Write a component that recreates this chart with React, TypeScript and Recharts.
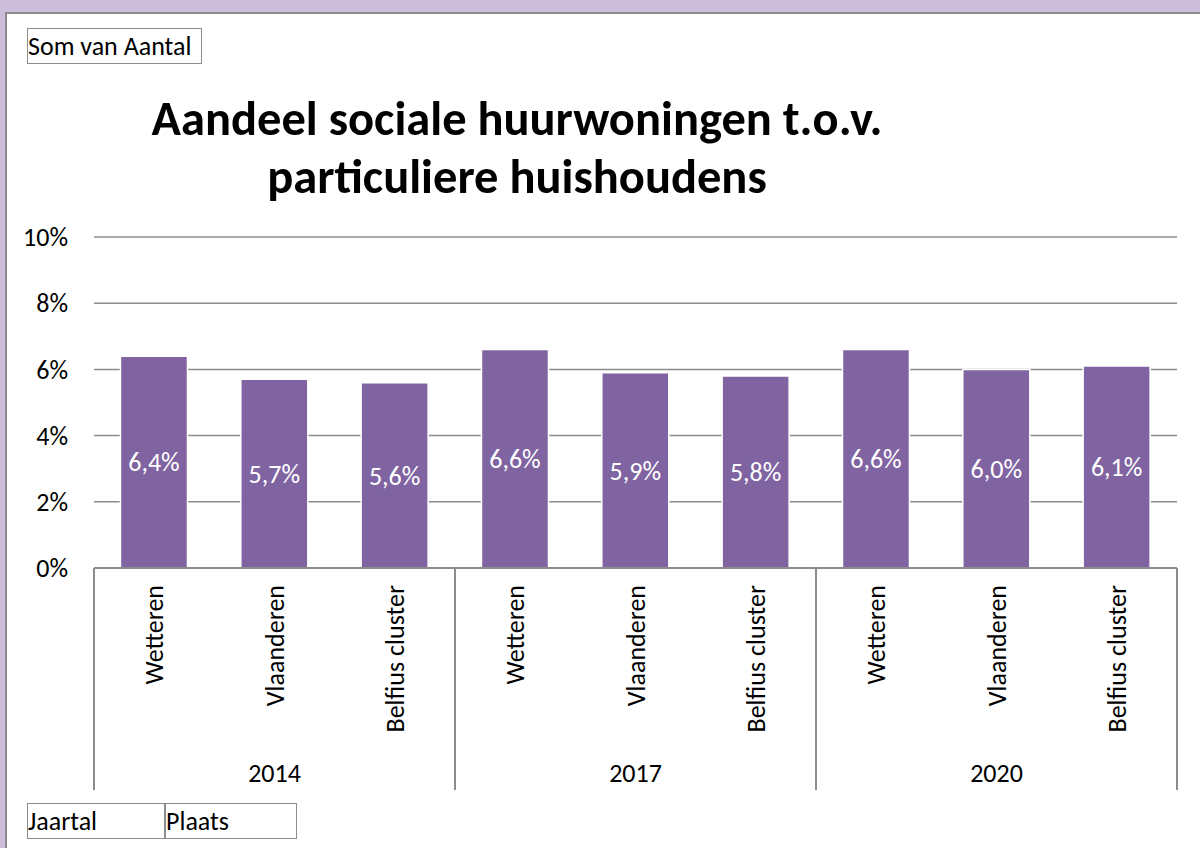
import React from 'react';
import { BarChart, Bar, XAxis, YAxis, CartesianGrid, LabelList } from 'recharts';

const years = ['2014', '2017', '2020'];
const places = ['Wetteren', 'Vlaanderen', 'Belfius cluster'];
const shares2014 = [0.064, 0.057, 0.056];
const shares2017 = [0.066, 0.059, 0.058];
const shares2020 = [0.066, 0.06, 0.061];
const yTicks = [0, 0.02, 0.04, 0.06, 0.08, 0.1];

const data = [shares2014, shares2017, shares2020].flatMap((vals, gi) =>
  vals.map((v, pi) => ({
    key: `${years[gi]}-${places[pi]}`,
    year: years[gi],
    place: places[pi],
    value: v,
  }))
);

const FONT = 'Carlito, Calibri, Lato, sans-serif';
const GRID = '#8c8c8c';
const PLOT_LEFT = 94;
const PLOT_RIGHT = 1177;
const BAND = (PLOT_RIGHT - PLOT_LEFT) / data.length;

const pct = (v: number) => `${Math.round(v * 100)}%`;
const pctComma = (v: number) => `${(v * 100).toFixed(1).replace('.', ',')}%`;

// place name (rotated), year label under the middle bar, and the group separators
function CategoryTick(props: any) {
  const { x, y, payload, index } = props;
  const i = payload?.index ?? index;
  const d = data[i];
  if (!d) return null;
  const groupPos = i % places.length;
  return (
    <g>
      <text
        x={x}
        y={y + 17}
        transform={`rotate(-90, ${x}, ${y + 17})`}
        textAnchor="end"
        dominantBaseline="central"
        fontSize={26}
        fontFamily={FONT}
        fill="#000"
      >
        {d.place}
      </text>
      {groupPos === 1 && (
        <text x={x} y={y + 205} textAnchor="middle" dominantBaseline="central" fontSize={26} fontFamily={FONT} fill="#000">
          {d.year}
        </text>
      )}
      {groupPos === 0 && <line x1={x - BAND / 2} x2={x - BAND / 2} y1={y} y2={y + 222} stroke={GRID} strokeWidth={2} />}
      {i === data.length - 1 && <line x1={x + BAND / 2} x2={x + BAND / 2} y1={y} y2={y + 222} stroke={GRID} strokeWidth={2} />}
    </g>
  );
}

const boxStyle: React.CSSProperties = {
  position: 'absolute',
  border: '1.5px solid #8c8c8c',
  fontFamily: FONT,
  fontSize: 26,
  lineHeight: '34px',
  height: 34,
  boxSizing: 'content-box',
  paddingLeft: 0,
  color: '#000',
  background: '#fff',
  whiteSpace: 'nowrap',
};

export default function App() {
  return (
    <div style={{ position: 'absolute', left: 0, top: 0, width: 1200, height: 848, background: '#cdbfdb', overflow: 'hidden' }}>
      <div
        style={{
          position: 'absolute',
          left: 5,
          top: 12,
          width: 1200,
          height: 848,
          background: '#fff',
          borderLeft: '2px solid #8c8c8c',
          borderTop: '2px solid #8c8c8c',
        }}
      />
      <div style={{ ...boxStyle, left: 27, top: 28, width: 173 }}>Som van Aantal</div>
      <div
        style={{
          position: 'absolute',
          left: 117,
          width: 800,
          top: 90,
          textAlign: 'center',
          fontFamily: FONT,
          fontWeight: 700,
          fontSize: 48.5,
          lineHeight: '58px',
          color: '#000',
          whiteSpace: 'nowrap',
        }}
      >
        Aandeel sociale huurwoningen t.o.v.
        <br />
        particuliere huishoudens
      </div>
      <div style={{ position: 'absolute', left: 0, top: 0 }}>
        <BarChart width={1200} height={848} data={data} margin={{ top: 237, right: 1200 - PLOT_RIGHT, bottom: 0, left: 0 }} barCategoryGap="22%">
          <CartesianGrid vertical={false} stroke={GRID} strokeWidth={1.5} />
          <YAxis
            width={PLOT_LEFT}
            domain={[0, 0.1]}
            ticks={yTicks}
            tickFormatter={pct}
            axisLine={false}
            tickLine={false}
            tickSize={0}
            tickMargin={26}
            tick={{ fontSize: 26, fontFamily: FONT, fill: '#000' }}
          />
          <XAxis
            dataKey="key"
            height={280}
            interval={0}
            axisLine={{ stroke: GRID, strokeWidth: 2 }}
            tickLine={false}
            tickSize={0}
            tickMargin={0}
            tick={<CategoryTick />}
          />
          <Bar dataKey="value" fill="#8064a2" stroke="#ffffff" strokeWidth={1.5} isAnimationActive={false}>
            <LabelList dataKey="value" position="center" formatter={(v: any) => pctComma(Number(v))} fill="#ffffff" fontSize={26} fontFamily={FONT} />
          </Bar>
        </BarChart>
      </div>
      <div style={{ ...boxStyle, left: 27, top: 803, width: 136 }}>Jaartal</div>
      <div style={{ ...boxStyle, left: 165, top: 803, width: 130 }}>Plaats</div>
    </div>
  );
}
